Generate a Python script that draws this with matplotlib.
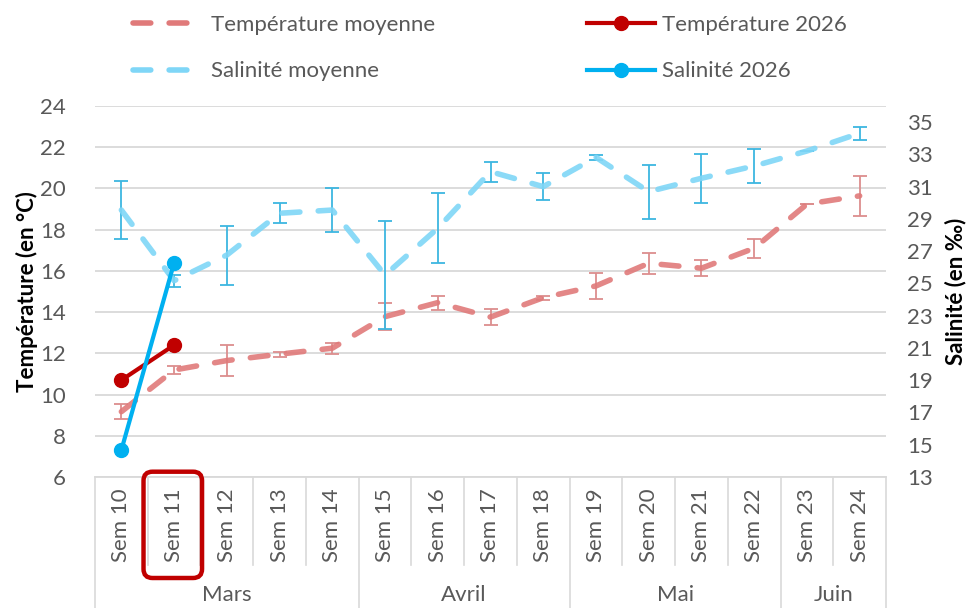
import matplotlib
matplotlib.use('Agg')
import matplotlib.pyplot as plt
from matplotlib.lines import Line2D
from matplotlib.patches import FancyBboxPatch
import numpy as np

plt.rcParams['font.family'] = ['Lato', 'DejaVu Sans']

# données
semaines = ['Sem 10', 'Sem 11', 'Sem 12', 'Sem 13', 'Sem 14', 'Sem 15', 'Sem 16', 'Sem 17',
            'Sem 18', 'Sem 19', 'Sem 20', 'Sem 21', 'Sem 22', 'Sem 23', 'Sem 24']
mois = ['Mars', 'Avril', 'Mai', 'Juin']
semaines_par_mois = [5, 4, 4, 2]

temp_moy = [9.17, 11.19, 11.65, 11.96, 12.25, 13.78, 14.46, 13.76, 14.7, 15.27, 16.37, 16.13, 17.1, 19.24, 19.64]
temp_err = [0.35, 0.18, 0.75, 0.12, 0.26, 0.65, 0.34, 0.38, 0.1, 0.65, 0.52, 0.4, 0.47, 0.0, 0.98]
sal_moy = [29.55, 25.17, 26.76, 29.35, 29.55, 25.52, 28.42, 31.93, 31.0, 32.82, 30.69, 31.52, 32.28, 33.21, 34.31]
sal_err = [1.79, 0.38, 1.83, 0.62, 1.35, 3.33, 2.17, 0.62, 0.82, 0.15, 1.68, 1.53, 1.07, 0.02, 0.39]
temp_2026 = [10.7, 12.4]
sal_2026 = [14.67, 26.27]

c_temp_moy = '#E07A7A'
c_temp_err = '#DC8E8E'
c_sal_moy = '#7FD6F7'
c_sal_err = '#3DB6E0'
c_temp = '#C00000'
c_sal = '#00B0F0'
gris = '#595959'

fig = plt.figure(figsize=(9.73, 6.08), dpi=100)
ax = fig.add_axes([95 / 973, 1 - 477 / 608, 791 / 973, 371 / 608])
ax2 = ax.twinx()

x = np.arange(len(semaines))

# température
ax.errorbar(x, temp_moy, yerr=temp_err, fmt='none', ecolor=c_temp_err, elinewidth=1.3, capsize=5, capthick=1.3)
ax.plot(x, temp_moy, color=c_temp_moy, lw=4, dashes=(3.2, 3.3), dash_capstyle='round', alpha=0.9)
ax.plot(x[:len(temp_2026)], temp_2026, color=c_temp, lw=3, marker='o', ms=10)

# salinité
ax2.errorbar(x, sal_moy, yerr=sal_err, fmt='none', ecolor=c_sal_err, elinewidth=1.3, capsize=5, capthick=1.3)
ax2.plot(x, sal_moy, color=c_sal_moy, lw=4, dashes=(3.2, 3.3), dash_capstyle='round', alpha=0.9)
ax2.plot(x[:len(sal_2026)], sal_2026, color=c_sal, lw=3, marker='o', ms=10)

ax.set_xlim(-0.5, len(semaines) - 0.5)
ax.set_ylim(6, 24)
ax.set_yticks(np.arange(6, 25, 2))
ax2.set_ylim(13, 36)
ax2.set_yticks(np.arange(13, 36, 2))
ax.grid(axis='y', color='#D9D9D9', lw=1.3)
ax.set_axisbelow(True)

for a in (ax, ax2):
    for s in a.spines.values():
        s.set_visible(False)
    a.tick_params(axis='y', length=0, labelsize=16, labelcolor=gris)
ax.tick_params(axis='y', pad=21)
ax2.tick_params(axis='y', pad=15)
ax.spines['bottom'].set_visible(True)
ax.spines['bottom'].set_color('#D9D9D9')
ax.spines['bottom'].set_linewidth(1.3)

ax.set_xticks(x)
ax.set_xticklabels(semaines, rotation=90, fontsize=16, color=gris)
ax.tick_params(axis='x', length=0, pad=8)

ax.set_ylabel('Température (en °C)', fontsize=16, fontweight='bold')
ax2.set_ylabel('Salinité (en ‰)', fontsize=16, fontweight='bold')
ax.yaxis.set_label_coords(-0.072, 0.5)
ax2.yaxis.set_label_coords(1.0746, 0.5)

# axe des catégories à deux niveaux
trans = ax.get_xaxis_transform()
bords = np.cumsum([0] + semaines_par_mois) - 0.5
for b in np.arange(-0.5, len(semaines), 1):
    bas = -0.353 if b in bords else -0.237
    ax.plot([b, b], [0, bas], color='#D9D9D9', lw=1.2, transform=trans, clip_on=False)
for i, m in enumerate(mois):
    ax.text((bords[i] + bords[i + 1]) / 2, -0.318, m, transform=trans, ha='center', va='center',
            fontsize=16, color=gris)

# encadré Sem 11
fig.canvas.draw()
x0, _ = ax.transData.transform((1 - 0.58, 0))
x1, _ = ax.transData.transform((1 + 0.53, 0))
haut = fig.bbox.height - 471.7
bas_px = fig.bbox.height - 578
box = FancyBboxPatch((x0, bas_px), x1 - x0, haut - bas_px, boxstyle='round,pad=0,rounding_size=9',
                     transform=None, fill=False, edgecolor=c_temp, lw=3.2, clip_on=False)
fig.patches.append(box)

# légende
h1 = [Line2D([], [], color=c_temp_moy, lw=4, dashes=(3.2, 3.3), dash_capstyle='round'),
      Line2D([], [], color=c_sal_moy, lw=4, dashes=(3.2, 3.3), dash_capstyle='round')]
h2 = [Line2D([], [], color=c_temp, lw=3, marker='o', ms=10),
      Line2D([], [], color=c_sal, lw=3, marker='o', ms=10)]
leg1 = fig.legend(h1, ['Température moyenne', 'Salinité moyenne'], loc='upper left',
                  bbox_to_anchor=(133 / 973, 1 - 15 / 608), frameon=False, fontsize=16, handlelength=2.65,
                  handletextpad=0.85, labelspacing=1.19, labelcolor=gris, borderaxespad=0, borderpad=0)
leg2 = fig.legend(h2, ['Température 2026', 'Salinité 2026'], loc='upper left',
                  bbox_to_anchor=(587 / 973, 1 - 15 / 608), frameon=False, fontsize=16, handlelength=3.06,
                  handletextpad=0.3, labelspacing=1.19, labelcolor=gris, borderaxespad=0, borderpad=0)

fig.savefig('out.png', dpi=100)
